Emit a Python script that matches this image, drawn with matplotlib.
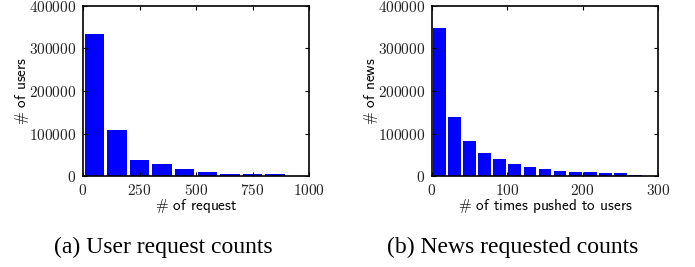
import numpy as np
import matplotlib
matplotlib.use('Agg')
import matplotlib.pyplot as plt

# left panel: users binned by number of requests (bin width 100)
req_bins = [0, 100, 200, 300, 400, 500, 600, 700, 800]
req_users = [333000, 109000, 38500, 29000, 17200, 10200, 5500, 5500, 5500]

# right panel: news binned by times pushed (bin width 20)
push_bins = [0, 20, 40, 60, 80, 100, 120, 140, 160, 180, 200, 220, 240, 260]
push_news = [348500, 138000, 81500, 53200, 39000, 27400, 20400, 15700,
             11000, 8600, 8600, 7000, 6300, 3500]

plt.rcParams['mathtext.fontset'] = 'cm'
plt.rcParams['axes.formatter.use_mathtext'] = True

fig = plt.figure(figsize=(6.95, 2.67), dpi=100)

def draw(ax, bins, vals, bw, xmax, xticks, xlabel, ylabel, caption, cx):
    centers = np.array(bins) + bw / 2
    ax.bar(centers, vals, width=bw * 0.85, color='#0000ff', linewidth=0)
    ax.set_xlim(0, xmax)
    ax.set_ylim(0, 400000)
    ax.set_xticks(xticks)
    ax.set_yticks([0, 100000, 200000, 300000, 400000])
    ax.tick_params(direction='in', top=True, right=True, length=3, width=0.8,
                   pad=5, labelsize=11, labelcolor='#222222')
    for lab in ax.get_xticklabels() + ax.get_yticklabels():
        lab.set_fontfamily('cmr10')
    for sp in ax.spines.values():
        sp.set_linewidth(1.2)
    ax.set_xlabel(xlabel, fontfamily='cmss10', fontsize=11, va='center')
    ax.set_ylabel(ylabel, fontfamily='cmss10', fontsize=11, va='center')
    ax.xaxis.set_label_coords(0.5, -0.176)
    ax.yaxis.set_label_coords(-0.27, 0.5)
    fig.text(cx, 1 - 247 / 267, caption, ha='center', va='center',
             fontfamily='Liberation Serif', fontsize=17)

ax1 = fig.add_axes([83 / 695, 1 - 176 / 267, 226 / 695, 170 / 267])
draw(ax1, req_bins, req_users, 100, 1000, [0, 250, 500, 750, 1000],
     r'$\#$ of request', r'$\#$ of users', '(a) User request counts', 163 / 695)

ax2 = fig.add_axes([432 / 695, 1 - 176 / 267, 226 / 695, 170 / 267])
draw(ax2, push_bins, push_news, 20, 300, [0, 100, 200, 300],
     r'$\#$ of times pushed to users', r'$\#$ of news', '(b) News requested counts', 513 / 695)

fig.savefig('out.png', dpi=100)
